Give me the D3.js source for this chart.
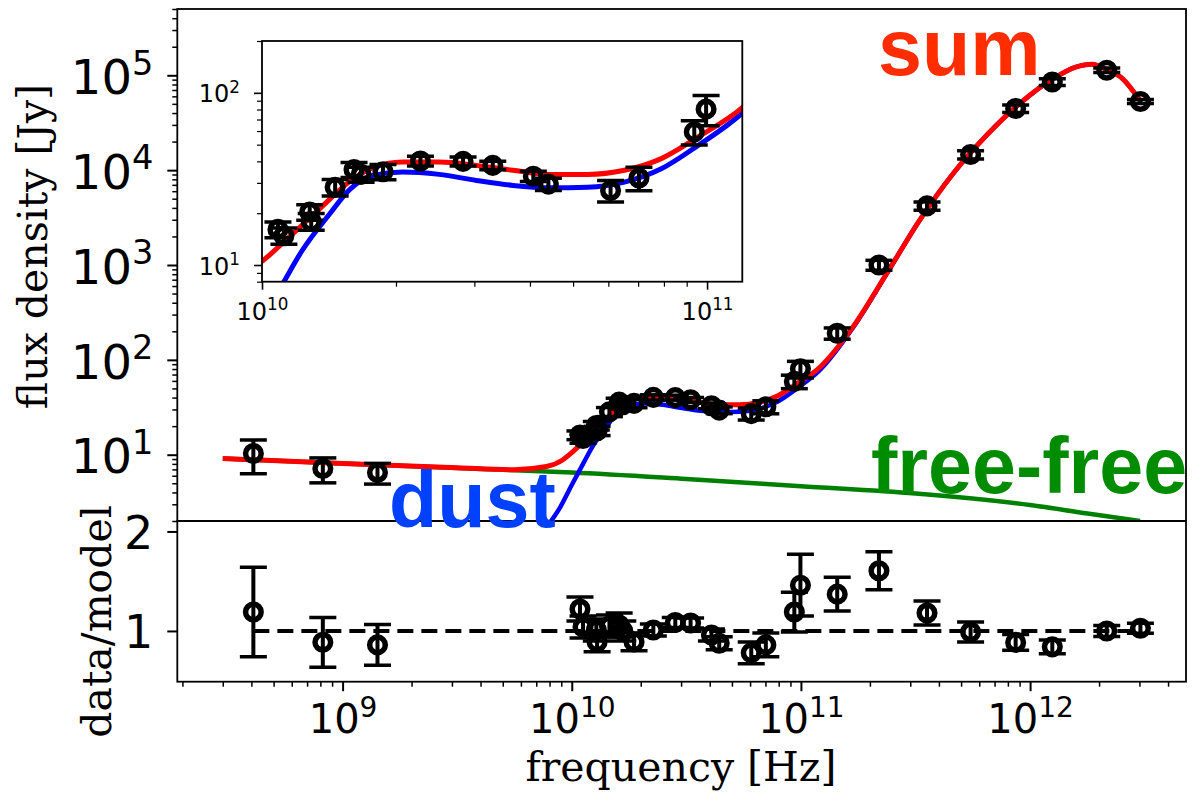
<!DOCTYPE html>
<html>
<head>
<meta charset="utf-8">
<title>SED fit</title>
<script src="https://cdn.jsdelivr.net/npm/d3@7"></script>
<style>
  body { margin: 0; background: #fff; }
</style>
</head>
<body>
<svg id="chart" width="1192" height="796"></svg>
<script>
// measured photometry (Hz, Jy)
const freqHz = [4.08e8, 8.2e8, 1.42e9, 1.086e10, 1.12e10, 1.28e10, 1.29e10, 1.46e10, 1.61e10, 1.67e10,
                1.87e10, 2.27e10, 2.83e10, 3.30e10, 4.07e10, 4.40e10, 6.07e10, 7.03e10, 9.36e10, 9.95e10,
                1.44e11, 2.19e11, 3.55e11, 5.50e11, 8.65e11, 1.25e12, 2.16e12, 3.03e12];
const fluxJy = [10.3, 7.15, 6.5, 16.1, 14.8, 20.3, 17.9, 28.3, 35.8, 33.6,
                34.8, 40.2, 40.0, 37.9, 32.8, 29.5, 27.1, 32.0, 59.3, 80.4,
                191, 1000, 4200, 14600, 44600, 85000, 113000, 53000];
const fluxErrJy = [4.0, 2.1, 1.6, 1.7, 1.6, 2.1, 2.0, 3.1, 3.6, 3.4,
                   3.5, 2.6, 2.4, 2.2, 2.2, 2.4, 3.9, 5.0, 9.6, 16,
                   26, 120, 420, 1460, 4000, 6800, 6200, 2600];
// data / model
const ratio = [1.19, 0.886, 0.86, 1.22, 1.04, 1.01, 0.89, 1.05, 1.06, 1.0,
               0.89, 1.01, 1.085, 1.08, 0.96, 0.876, 0.78, 0.86, 1.19, 1.46,
               1.37, 1.605, 1.18, 0.99, 0.885, 0.84, 1.0, 1.027];
const ratioErr = [0.45, 0.25, 0.205, 0.12, 0.11, 0.11, 0.10, 0.11, 0.12, 0.10,
                  0.09, 0.06, 0.05, 0.05, 0.06, 0.065, 0.11, 0.12, 0.20, 0.31,
                  0.17, 0.19, 0.12, 0.10, 0.08, 0.07, 0.055, 0.05];

// model curves
const sumHz = [3.0e8, 1.0e9, 3.16e9, 5.62e9, 7.76e9, 9.12e9, 1.0e10, 1.16e10, 1.36e10, 1.55e10,
               1.77e10, 2.07e10, 2.5e10, 3.03e10, 3.66e10, 4.44e10, 5.38e10, 6.52e10, 7.89e10, 9.55e10,
               1.2e11, 1.69e11, 2.37e11, 3.3e11, 4.62e11, 6.46e11, 9.02e11, 1.26e12, 1.58e12, 1.86e12,
               2.16e12, 2.51e12, 3.02e12];
const sumJy = [9.1, 8.1, 7.3, 6.95, 7.5, 8.8, 10.5, 14.8, 21.7, 29.6,
               36.6, 39.6, 39.6, 37.9, 35.5, 33.6, 33.6, 35.5, 41.5, 55.4,
               82, 224, 817, 2980, 9230, 23300, 50400, 92000, 122000, 131000,
               115000, 94000, 54000];
const dustHz = [7.59e9, 8.91e9, 1.0e10, 1.12e10, 1.23e10, 1.41e10, 1.58e10, 1.77e10, 2.07e10, 2.5e10,
                3.03e10, 3.66e10, 4.44e10, 5.38e10, 6.52e10, 7.89e10, 9.55e10, 1.2e11, 1.69e11, 2.37e11,
                3.3e11, 4.62e11, 6.46e11, 9.02e11, 1.26e12, 1.58e12, 1.86e12, 2.16e12, 2.51e12, 3.02e12];
const dustJy = [1.6, 2.8, 4.8, 8.0, 12.1, 19.4, 27.7, 33.1, 34.7, 33.6,
                31.0, 29.0, 28.1, 28.3, 30.3, 36.2, 49.5, 76.4, 219, 813,
                2976, 9226, 23296, 50397, 92000, 122000, 131000, 115000, 94000, 54000];
const ffHz = [3e8, 1e9, 3.16e9, 5.62e9, 1e10, 3.16e10, 1e11, 3.16e11, 1e12, 1.78e12, 3.02e12];
const ffJy = [9.1, 8.1, 7.25, 6.86, 6.5, 5.55, 4.65, 3.9, 2.95, 2.4, 2.0];

const yMajorTicks = [10, 100, 1e3, 1e4, 1e5];
const xMajorTicks = [1e9, 1e10, 1e11, 1e12];
const ratioTicks = [1, 2];
const insetXTicks = [1e10, 1e11];
const insetYTicks = [10, 100];

window.addEventListener('load', e => {
    drawChart();
});

function isPow10(v) {
    let l = Math.log10(v);
    return Math.abs(l - Math.round(l)) < 1e-9;
}

function powText(sel) {
    sel.each(function (d) {
        let t = d3.select(this).text('');
        t.append('tspan').text('10');
        t.append('tspan').attr('font-size', '70%').attr('dy', '-0.58em')
         .text(Math.round(Math.log10(d)));
    });
}

function drawCurve(g, sx, sy, xs, ys, color, width, clip) {
    g.append('path')
     .datum(xs.map((f, i) => [f, ys[i]]))
     .attr('clip-path', 'url(#' + clip + ')')
     .attr('fill', 'none')
     .attr('stroke', color)
     .attr('stroke-width', width)
     .attr('d', d3.line().x(d => sx(d[0])).y(d => sy(d[1])).curve(d3.curveMonotoneX));
}

function drawPoints(g, sx, sy, xs, ys, es, clip) {
    let pts = g.append('g').attr('clip-path', 'url(#' + clip + ')')
               .selectAll('g')
               .data(xs.map((f, i) => ({f: f, v: ys[i], e: es[i]})))
               .enter()
               .append('g');
    pts.append('line')
       .attr('x1', d => sx(d.f)).attr('x2', d => sx(d.f))
       .attr('y1', d => sy(d.v - d.e)).attr('y2', d => sy(d.v + d.e))
       .attr('stroke', '#000').attr('stroke-width', 4);
    [-1, 1].forEach(s => {
        pts.append('line')
           .attr('x1', d => sx(d.f) - 13.5).attr('x2', d => sx(d.f) + 13.5)
           .attr('y1', d => sy(d.v + s * d.e)).attr('y2', d => sy(d.v + s * d.e))
           .attr('stroke', '#000').attr('stroke-width', 3.5);
    });
    pts.append('circle')
       .attr('cx', d => sx(d.f)).attr('cy', d => sy(d.v))
       .attr('r', 7.8)
       .attr('fill', 'none').attr('stroke', '#000').attr('stroke-width', 5.5);
}

function styleAxis(g, size, width) {
    g.select('.domain').remove();
    g.selectAll('.tick line').attr('stroke-width', width);
    g.attr('font-family', '"DejaVu Sans", sans-serif').attr('font-size', size);
}

function drawChart() {
    let svg = d3.select('#chart');
    let left = 177.3, right = 1186, top = 9, mid = 521, bottom = 681.7;

    let x = d3.scaleLog().domain([1.9e8, 4.79e12]).range([left, right]);
    let yFlux = d3.scaleLog().domain([2, 5e5]).range([mid, top]);
    let yRatio = d3.scaleLinear().domain([0.49, 2.105]).range([bottom, mid]);

    let xIn = d3.scaleLog().domain([1e10, 1.2e11]).range([262, 742.3]);
    let yIn = d3.scaleLog().domain([8, 200]).range([281.7, 41]);

    let defs = svg.append('defs');
    [['clipMain', left, top, right - left, mid - top],
     ['clipRatio', left, mid, right - left, bottom - mid],
     ['clipInset', 262, 41, 742.3 - 262, 281.7 - 41]].forEach(c => {
        defs.append('clipPath').attr('id', c[0]).append('rect')
            .attr('x', c[1]).attr('y', c[2]).attr('width', c[3]).attr('height', c[4]);
    });

    // main panel
    let main = svg.append('g');
    drawCurve(main, x, yFlux, ffHz, ffJy, '#008000', 4.5, 'clipMain');
    drawCurve(main, x, yFlux, dustHz, dustJy, '#0000ff', 4.5, 'clipMain');
    drawCurve(main, x, yFlux, sumHz, sumJy, '#ff0000', 5, 'clipMain');
    drawPoints(main, x, yFlux, freqHz, fluxJy, fluxErrJy, 'clipMain');

    main.append('rect').attr('x', left).attr('y', top).attr('width', right - left).attr('height', mid - top)
        .attr('fill', 'none').attr('stroke', '#000').attr('stroke-width', 1.8);

    svg.append('g').attr('transform', 'translate(' + left + ',0)')
       .call(d3.axisLeft(yFlux).tickValues(yMajorTicks).tickSize(10).tickPadding(14))
       .call(g => styleAxis(g, 48, 2))
       .selectAll('.tick text').attr('dy', '0.38em').call(powText);
    svg.append('g').attr('transform', 'translate(' + left + ',0)')
       .call(d3.axisLeft(yFlux).tickValues(yFlux.ticks().filter(v => !isPow10(v))).tickSize(5).tickFormat(''))
       .call(g => styleAxis(g, 10, 1.5));

    // ratio panel
    let low = svg.append('g');
    low.append('line')
       .attr('x1', x(freqHz[0])).attr('x2', x(freqHz[freqHz.length - 1]))
       .attr('y1', yRatio(1)).attr('y2', yRatio(1))
       .attr('stroke', '#000').attr('stroke-width', 4).attr('stroke-dasharray', '16 8');
    drawPoints(low, x, yRatio, freqHz, ratio, ratioErr, 'clipRatio');
    low.append('rect').attr('x', left).attr('y', mid).attr('width', right - left).attr('height', bottom - mid)
       .attr('fill', 'none').attr('stroke', '#000').attr('stroke-width', 1.8);

    svg.append('g').attr('transform', 'translate(' + left + ',0)')
       .call(d3.axisLeft(yRatio).tickValues(ratioTicks).tickSize(10).tickPadding(14).tickFormat(d3.format('d')))
       .call(g => styleAxis(g, 46, 2))
       .selectAll('.tick text').attr('dy', '0.36em');

    svg.append('g').attr('transform', 'translate(0,' + bottom + ')')
       .call(d3.axisBottom(x).tickValues(xMajorTicks).tickSize(9.5))
       .call(g => styleAxis(g, 40, 2))
       .selectAll('.tick text').attr('y', 51.6).attr('dy', 0).call(powText);
    svg.append('g').attr('transform', 'translate(0,' + bottom + ')')
       .call(d3.axisBottom(x).tickValues(x.ticks().filter(v => !isPow10(v))).tickSize(5).tickFormat(''))
       .call(g => styleAxis(g, 10, 1.5));

    // inset
    let inset = svg.append('g');
    inset.append('rect').attr('x', 262).attr('y', 41).attr('width', 742.3 - 262).attr('height', 281.7 - 41)
         .attr('fill', '#fff');
    drawCurve(inset, xIn, yIn, dustHz, dustJy, '#0000ff', 5, 'clipInset');
    drawCurve(inset, xIn, yIn, sumHz, sumJy, '#ff0000', 5, 'clipInset');
    let inX = freqHz.filter(f => f >= 1e10 && f <= 1.2e11);
    let inI = inX.map(f => freqHz.indexOf(f));
    drawPoints(inset, xIn, yIn, inX, inI.map(i => fluxJy[i]), inI.map(i => fluxErrJy[i]), 'clipInset');
    inset.append('rect').attr('x', 262).attr('y', 41).attr('width', 742.3 - 262).attr('height', 281.7 - 41)
         .attr('fill', 'none').attr('stroke', '#000').attr('stroke-width', 1.8);

    svg.append('g').attr('transform', 'translate(262,0)')
       .call(d3.axisLeft(yIn).tickValues(insetYTicks).tickSize(8).tickPadding(14))
       .call(g => styleAxis(g, 24, 1.6))
       .selectAll('.tick text').attr('dy', '0.38em').call(powText);
    svg.append('g').attr('transform', 'translate(262,0)')
       .call(d3.axisLeft(yIn).tickValues(yIn.ticks().filter(v => !isPow10(v))).tickSize(5).tickFormat(''))
       .call(g => styleAxis(g, 10, 1.2));
    svg.append('g').attr('transform', 'translate(0,281.7)')
       .call(d3.axisBottom(xIn).tickValues(insetXTicks).tickSize(8))
       .call(g => styleAxis(g, 24, 1.6))
       .selectAll('.tick text').attr('y', 38).attr('dy', 0).call(powText);
    svg.append('g').attr('transform', 'translate(0,281.7)')
       .call(d3.axisBottom(xIn).tickValues(xIn.ticks().filter(v => !isPow10(v))).tickSize(5).tickFormat(''))
       .call(g => styleAxis(g, 10, 1.2));

    // axis labels
    let serif = '"DejaVu Serif", serif';
    svg.append('text').attr('transform', 'translate(47,246.5) rotate(-90)')
       .attr('text-anchor', 'middle').attr('font-family', serif).attr('font-size', 41)
       .text('flux density [Jy]');
    svg.append('text').attr('transform', 'translate(111,621.5) rotate(-90)')
       .attr('text-anchor', 'middle').attr('font-family', serif).attr('font-size', 41)
       .text('data/model');
    svg.append('text').attr('x', 681).attr('y', 781)
       .attr('text-anchor', 'middle').attr('font-family', serif).attr('font-size', 41)
       .text('frequency [Hz]');

    // component labels
    let bold = '"Liberation Sans", Arial, sans-serif';
    [['sum', 878, 75, '#ff2d00'], ['dust', 389, 527, '#0040ff'], ['free-free', 871, 493, '#008c00']]
        .forEach(l => {
            svg.append('text').attr('x', l[1]).attr('y', l[2])
               .attr('font-family', bold).attr('font-weight', 'bold').attr('font-size', 79)
               .attr('fill', l[3]).text(l[0]);
        });
}
</script>
</body>
</html>
